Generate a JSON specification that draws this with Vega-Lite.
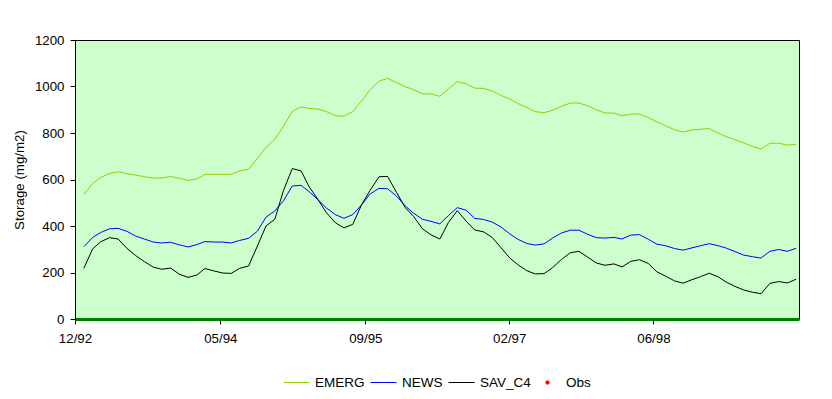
{
  "$schema": "https://vega.github.io/schema/vega-lite/v6.json",
  "width": 724,
  "height": 279,
  "autosize": {"type": "none"},
  "padding": {"left": 75, "top": 40, "right": 33, "bottom": 80},
  "background": "#FFFFFF",
  "config": {
    "view": {"fill": "#CCFFCC", "stroke": "#000000", "strokeWidth": 1},
    "font": "Liberation Sans",
    "axis": {"labelFont": "Liberation Sans", "titleFont": "Liberation Sans", "labelColor": "#000000", "titleColor": "#000000", "labelFontSize": 13.3, "titleFontSize": 13.3, "titleFontWeight": "normal", "grid": false, "tickColor": "#000000", "domainColor": "#000000"},
    "legend": {"labelFont": "Liberation Sans", "labelFontSize": 13.5, "labelColor": "#000000"}
  },
  "data": {
    "values": [
      {"date": "1993-01-10", "EMERG": 536, "NEWS": 311, "SAV_C4": 218},
      {"date": "1993-02-10", "EMERG": 583, "NEWS": 351, "SAV_C4": 302},
      {"date": "1993-03-10", "EMERG": 609, "NEWS": 372, "SAV_C4": 332},
      {"date": "1993-04-10", "EMERG": 626, "NEWS": 388, "SAV_C4": 350},
      {"date": "1993-05-10", "EMERG": 633, "NEWS": 390, "SAV_C4": 344},
      {"date": "1993-06-10", "EMERG": 625, "NEWS": 377, "SAV_C4": 304},
      {"date": "1993-07-10", "EMERG": 619, "NEWS": 357, "SAV_C4": 273},
      {"date": "1993-08-10", "EMERG": 612, "NEWS": 344, "SAV_C4": 247},
      {"date": "1993-09-10", "EMERG": 606, "NEWS": 331, "SAV_C4": 223},
      {"date": "1993-10-10", "EMERG": 606, "NEWS": 327, "SAV_C4": 214},
      {"date": "1993-11-10", "EMERG": 613, "NEWS": 330, "SAV_C4": 219},
      {"date": "1993-12-10", "EMERG": 605, "NEWS": 319, "SAV_C4": 193},
      {"date": "1994-01-10", "EMERG": 596, "NEWS": 310, "SAV_C4": 179},
      {"date": "1994-02-10", "EMERG": 602, "NEWS": 320, "SAV_C4": 189},
      {"date": "1994-03-10", "EMERG": 622, "NEWS": 333, "SAV_C4": 217},
      {"date": "1994-04-10", "EMERG": 622, "NEWS": 331, "SAV_C4": 207},
      {"date": "1994-05-10", "EMERG": 622, "NEWS": 331, "SAV_C4": 198},
      {"date": "1994-06-10", "EMERG": 622, "NEWS": 327, "SAV_C4": 196},
      {"date": "1994-07-10", "EMERG": 637, "NEWS": 338, "SAV_C4": 218},
      {"date": "1994-08-10", "EMERG": 644, "NEWS": 347, "SAV_C4": 228},
      {"date": "1994-09-10", "EMERG": 691, "NEWS": 378, "SAV_C4": 314},
      {"date": "1994-10-10", "EMERG": 738, "NEWS": 438, "SAV_C4": 400},
      {"date": "1994-11-10", "EMERG": 774, "NEWS": 465, "SAV_C4": 429},
      {"date": "1994-12-10", "EMERG": 829, "NEWS": 508, "SAV_C4": 552},
      {"date": "1995-01-10", "EMERG": 893, "NEWS": 572, "SAV_C4": 647},
      {"date": "1995-02-10", "EMERG": 912, "NEWS": 575, "SAV_C4": 637},
      {"date": "1995-03-10", "EMERG": 906, "NEWS": 548, "SAV_C4": 569},
      {"date": "1995-04-10", "EMERG": 903, "NEWS": 513, "SAV_C4": 514},
      {"date": "1995-05-10", "EMERG": 892, "NEWS": 477, "SAV_C4": 457},
      {"date": "1995-06-10", "EMERG": 874, "NEWS": 449, "SAV_C4": 414},
      {"date": "1995-07-10", "EMERG": 872, "NEWS": 433, "SAV_C4": 392},
      {"date": "1995-08-10", "EMERG": 892, "NEWS": 449, "SAV_C4": 407},
      {"date": "1995-09-10", "EMERG": 938, "NEWS": 491, "SAV_C4": 492},
      {"date": "1995-10-10", "EMERG": 986, "NEWS": 538, "SAV_C4": 554},
      {"date": "1995-11-10", "EMERG": 1023, "NEWS": 562, "SAV_C4": 612},
      {"date": "1995-12-10", "EMERG": 1035, "NEWS": 560, "SAV_C4": 613},
      {"date": "1996-01-10", "EMERG": 1017, "NEWS": 529, "SAV_C4": 545},
      {"date": "1996-02-10", "EMERG": 999, "NEWS": 486, "SAV_C4": 479},
      {"date": "1996-03-10", "EMERG": 986, "NEWS": 455, "SAV_C4": 441},
      {"date": "1996-04-10", "EMERG": 969, "NEWS": 429, "SAV_C4": 388},
      {"date": "1996-05-10", "EMERG": 968, "NEWS": 420, "SAV_C4": 362},
      {"date": "1996-06-10", "EMERG": 958, "NEWS": 409, "SAV_C4": 344},
      {"date": "1996-07-10", "EMERG": 990, "NEWS": 445, "SAV_C4": 415},
      {"date": "1996-08-10", "EMERG": 1021, "NEWS": 479, "SAV_C4": 466},
      {"date": "1996-09-10", "EMERG": 1012, "NEWS": 468, "SAV_C4": 421},
      {"date": "1996-10-10", "EMERG": 993, "NEWS": 433, "SAV_C4": 383},
      {"date": "1996-11-10", "EMERG": 992, "NEWS": 428, "SAV_C4": 375},
      {"date": "1996-12-10", "EMERG": 981, "NEWS": 417, "SAV_C4": 351},
      {"date": "1997-01-10", "EMERG": 962, "NEWS": 396, "SAV_C4": 307},
      {"date": "1997-02-10", "EMERG": 946, "NEWS": 366, "SAV_C4": 262},
      {"date": "1997-03-10", "EMERG": 927, "NEWS": 343, "SAV_C4": 234},
      {"date": "1997-04-10", "EMERG": 910, "NEWS": 325, "SAV_C4": 208},
      {"date": "1997-05-10", "EMERG": 892, "NEWS": 318, "SAV_C4": 194},
      {"date": "1997-06-10", "EMERG": 887, "NEWS": 323, "SAV_C4": 195},
      {"date": "1997-07-10", "EMERG": 898, "NEWS": 348, "SAV_C4": 221},
      {"date": "1997-08-10", "EMERG": 915, "NEWS": 370, "SAV_C4": 256},
      {"date": "1997-09-10", "EMERG": 929, "NEWS": 382, "SAV_C4": 285},
      {"date": "1997-10-10", "EMERG": 929, "NEWS": 382, "SAV_C4": 291},
      {"date": "1997-11-10", "EMERG": 917, "NEWS": 364, "SAV_C4": 266},
      {"date": "1997-12-10", "EMERG": 900, "NEWS": 350, "SAV_C4": 241},
      {"date": "1998-01-10", "EMERG": 886, "NEWS": 348, "SAV_C4": 231},
      {"date": "1998-02-10", "EMERG": 886, "NEWS": 351, "SAV_C4": 237},
      {"date": "1998-03-10", "EMERG": 874, "NEWS": 344, "SAV_C4": 224},
      {"date": "1998-04-10", "EMERG": 881, "NEWS": 361, "SAV_C4": 248},
      {"date": "1998-05-10", "EMERG": 882, "NEWS": 363, "SAV_C4": 255},
      {"date": "1998-06-10", "EMERG": 866, "NEWS": 343, "SAV_C4": 239},
      {"date": "1998-07-10", "EMERG": 848, "NEWS": 322, "SAV_C4": 203},
      {"date": "1998-08-10", "EMERG": 831, "NEWS": 315, "SAV_C4": 184},
      {"date": "1998-09-10", "EMERG": 814, "NEWS": 303, "SAV_C4": 164},
      {"date": "1998-10-10", "EMERG": 804, "NEWS": 296, "SAV_C4": 154},
      {"date": "1998-11-10", "EMERG": 813, "NEWS": 306, "SAV_C4": 169},
      {"date": "1998-12-10", "EMERG": 816, "NEWS": 315, "SAV_C4": 182},
      {"date": "1999-01-10", "EMERG": 819, "NEWS": 324, "SAV_C4": 197},
      {"date": "1999-02-10", "EMERG": 800, "NEWS": 315, "SAV_C4": 181},
      {"date": "1999-03-10", "EMERG": 784, "NEWS": 305, "SAV_C4": 159},
      {"date": "1999-04-10", "EMERG": 771, "NEWS": 290, "SAV_C4": 140},
      {"date": "1999-05-10", "EMERG": 758, "NEWS": 275, "SAV_C4": 125},
      {"date": "1999-06-10", "EMERG": 742, "NEWS": 268, "SAV_C4": 115},
      {"date": "1999-07-10", "EMERG": 731, "NEWS": 262, "SAV_C4": 109},
      {"date": "1999-08-10", "EMERG": 756, "NEWS": 291, "SAV_C4": 153},
      {"date": "1999-09-10", "EMERG": 756, "NEWS": 299, "SAV_C4": 161},
      {"date": "1999-10-10", "EMERG": 748, "NEWS": 291, "SAV_C4": 155},
      {"date": "1999-11-10", "EMERG": 751, "NEWS": 304, "SAV_C4": 171}
    ]
  },
  "transform": [{"fold": ["EMERG", "NEWS", "SAV_C4"], "as": ["series", "value"]}],
  "mark": {"type": "line", "strokeWidth": 1, "interpolate": "linear"},
  "encoding": {
    "x": {
      "field": "date",
      "type": "temporal",
      "scale": {"domain": ["1992-12-10", "1999-11-20"], "nice": false},
      "axis": {
        "title": null,
        "values": ["1992-12-10", "1994-05-03", "1995-09-23", "1997-02-08", "1998-06-28"],
        "format": "%m/%y",
        "labelFlush": false,
        "labelOverlap": false,
        "labelFontSize": 13.3,
        "domainColor": "#008000",
        "domainWidth": 3,
        "tickSize": 5,
        "labelPadding": 7
      }
    },
    "y": {
      "field": "value",
      "type": "quantitative",
      "scale": {"domain": [0, 1200], "nice": false},
      "axis": {
        "title": "Storage (mg/m2)",
        "values": [0, 200, 400, 600, 800, 1000, 1200],
        "format": "d",
        "labelFontSize": 13.3,
        "titleFontSize": 13.3,
        "tickSize": 5,
        "labelPadding": 6,
        "titlePadding": 8
      }
    },
    "color": {
      "field": "series",
      "type": "nominal",
      "scale": {"domain": ["EMERG", "NEWS", "SAV_C4", "Obs"], "range": ["#99CC00", "#0000FF", "#000000", "#FF0000"]},
      "legend": {
        "title": null,
        "orient": "none",
        "legendX": 208,
        "legendY": 329,
        "direction": "horizontal",
        "padding": 0,
        "labelFontSize": 13.5,
        "labelFont": "Liberation Sans",
        "symbolType": "stroke",
        "symbolSize": 676,
        "symbolStrokeWidth": 1,
        "labelOffset": 5,
        "columnPadding": 3,
        "encode": {
          "symbols": {
            "update": {
              "shape": {"signal": "datum.value === 'Obs' ? 'circle' : 'stroke'"},
              "size": {"signal": "datum.value === 'Obs' ? 12 : 676"},
              "fill": {"signal": "datum.value === 'Obs' ? '#FF0000' : 'transparent'"}
            }
          }
        }
      }
    }
  }
}
